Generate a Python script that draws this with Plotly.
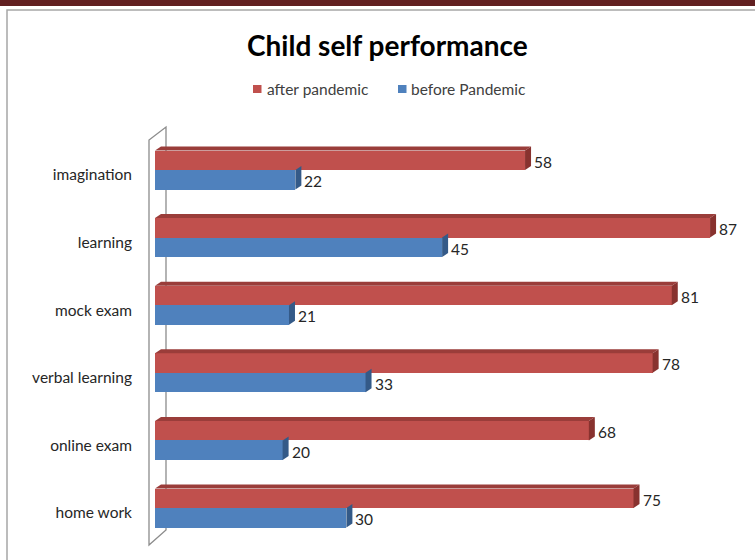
import plotly.graph_objects as go

# Survey categories, bottom to top on the chart
categories = ["home work", "online exam", "verbal learning", "mock exam", "learning", "imagination"]
after_pandemic = [75, 68, 78, 81, 87, 58]
before_pandemic = [30, 20, 33, 21, 45, 22]
series_names = ["after pandemic", "before Pandemic"]

RED, RED_TOP, RED_SIDE = "#C0504D", "#9A3D3A", "#88322F"
BLUE, BLUE_SIDE = "#4F81BD", "#345A88"
FONT = "Lato"
TXT = 15.5

W, H = 755, 560
L, R, T, B = 140, 0, 127, 15
PW, PH = W - L - R, H - T - B
PX_PER_UNIT = 6.38          # horizontal scale of the value axis
PX_PER_CAT = 67.6           # vertical spacing between categories
X0 = -15 / PX_PER_UNIT
X1 = X0 + PW / PX_PER_UNIT
Y0 = -37 / PX_PER_CAT
Y1 = Y0 + PH / PX_PER_CAT

BAR_W = 19.5 / PX_PER_CAT
DX = 6 / PX_PER_UNIT        # depth of the 3-D extrusion
DY = 4 / PX_PER_CAT


def px_x(p):
    return (p - L) / PW


def px_y(p):
    return (H - B - p) / PH


pos = list(range(len(categories)))

fig = go.Figure()
fig.add_trace(go.Bar(
    y=pos, x=after_pandemic, orientation="h", width=BAR_W, offset=0,
    marker=dict(color=RED, line=dict(width=0)), name=series_names[0],
    showlegend=False, hoverinfo="x"))
fig.add_trace(go.Bar(
    y=pos, x=before_pandemic, orientation="h", width=BAR_W, offset=-BAR_W,
    marker=dict(color=BLUE, line=dict(width=0)), name=series_names[1],
    showlegend=False, hoverinfo="x"))

shapes = []
annotations = []

# back wall on the left
wall = dict(type="path", xref="paper", yref="paper", layer="below",
            line=dict(color="#8C8C8C", width=1.3))
shapes.append(dict(wall, path=(
    f"M{px_x(149)},{px_y(545)} L{px_x(149)},{px_y(140)} "
    f"L{px_x(166)},{px_y(127)} L{px_x(166)},{px_y(530)} Z")))

for i, (a, b) in enumerate(zip(after_pandemic, before_pandemic)):
    top = i + BAR_W
    # top face of the group
    shapes.append(dict(
        type="path", xref="x", yref="y", layer="above", line=dict(width=0),
        fillcolor=RED_TOP,
        path=f"M0,{top} L{DX},{top + DY} L{a + DX},{top + DY} L{a},{top} Z"))
    # right-hand faces
    shapes.append(dict(
        type="path", xref="x", yref="y", layer="above", line=dict(width=0),
        fillcolor=RED_SIDE,
        path=f"M{a},{i} L{a},{top} L{a + DX},{top + DY} L{a + DX},{i + DY} Z"))
    shapes.append(dict(
        type="path", xref="x", yref="y", layer="above", line=dict(width=0),
        fillcolor=BLUE_SIDE,
        path=f"M{b},{i - BAR_W} L{b},{i} L{b + DX},{i + DY} L{b + DX},{i - BAR_W + DY} Z"))
    # value labels
    for val, yc in ((a, i + BAR_W / 2 - 0.02), (b, i - BAR_W / 2 - 0.02)):
        annotations.append(dict(
            x=val, y=yc, xref="x", yref="y", text=str(val), showarrow=False,
            xanchor="left", yanchor="middle", xshift=7,
            font=dict(family=FONT, size=TXT, color="#262626")))

# title
annotations.append(dict(
    x=px_x(387), y=px_y(45), xref="paper", yref="paper",
    text="<b>Child self performance</b>", showarrow=False,
    xanchor="center", yanchor="middle",
    font=dict(family=FONT, size=28, color="#000000")))

# legend
for color, name, sq, tx in ((RED, series_names[0], 253, 265),
                            (BLUE, series_names[1], 398, 409)):
    shapes.append(dict(type="rect", xref="paper", yref="paper",
                       x0=px_x(sq), x1=px_x(sq + 8.5), y0=px_y(93), y1=px_y(85),
                       fillcolor=color, line=dict(width=0)))
    annotations.append(dict(
        x=px_x(tx), y=px_y(88.5), xref="paper", yref="paper", text=name,
        showarrow=False, xanchor="left", yanchor="middle",
        font=dict(family=FONT, size=TXT, color="#404040")))

# page framing: dark strip on top and grey border
shapes.append(dict(type="rect", xref="paper", yref="paper",
                   x0=px_x(0), x1=px_x(W), y0=px_y(6), y1=px_y(0),
                   fillcolor="#611F20", line=dict(width=0), layer="below"))
shapes.append(dict(type="path", xref="paper", yref="paper", layer="below",
                   line=dict(color="#A6A6A6", width=1.5),
                   path=f"M{px_x(7)},{px_y(H)} L{px_x(7)},{px_y(10)} L{px_x(W)},{px_y(10)}"))

fig.update_layout(
    width=W, height=H,
    margin=dict(l=L, r=R, t=T, b=B, pad=0),
    paper_bgcolor="white", plot_bgcolor="white",
    showlegend=False, bargap=0,
    shapes=shapes, annotations=annotations,
    xaxis=dict(range=[X0, X1], showgrid=False, zeroline=False,
               showticklabels=False, showline=False, fixedrange=True),
    yaxis=dict(range=[Y0, Y1], showgrid=False, zeroline=False, showline=False,
               tickmode="array", tickvals=[p - 5 / PX_PER_CAT for p in pos],
               ticktext=categories, ticks="", ticklabelstandoff=7,
               tickfont=dict(family=FONT, size=TXT, color="#262626"),
               fixedrange=True),
)

fig.write_html("out.html", config={"displayModeBar": False})
